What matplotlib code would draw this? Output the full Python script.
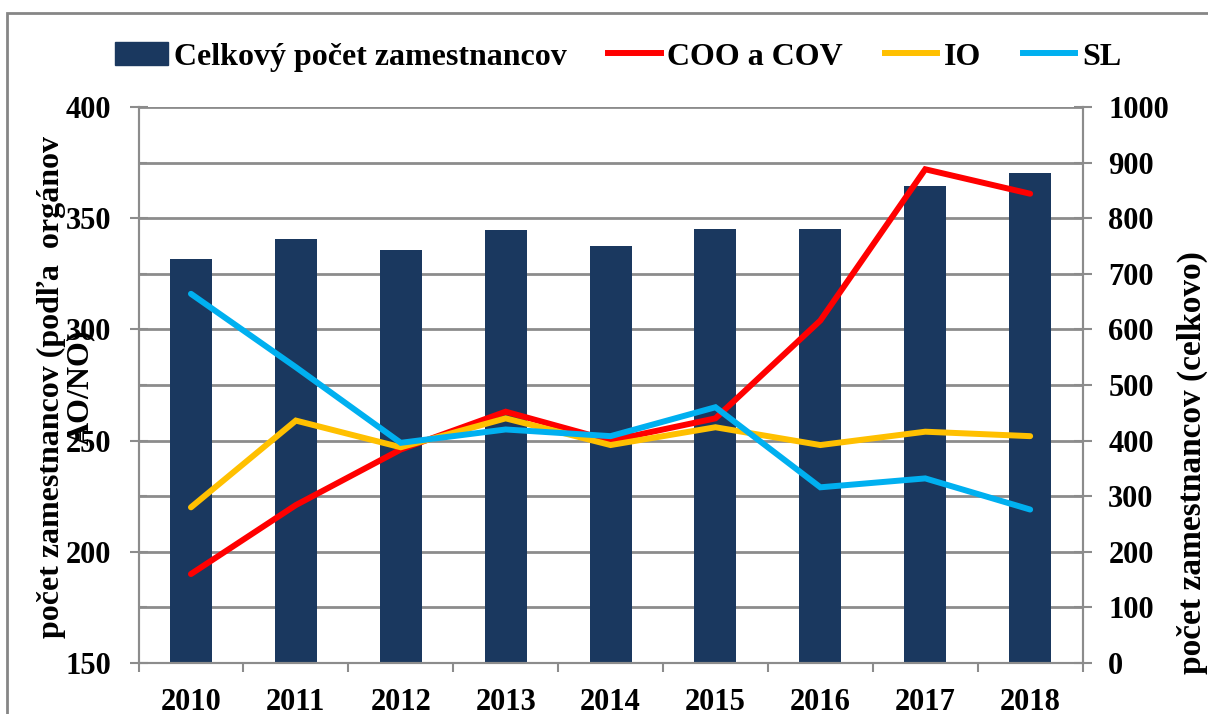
import matplotlib
matplotlib.use("Agg")
import matplotlib.pyplot as plt
import numpy as np
from matplotlib.patches import Rectangle, Patch
from matplotlib.lines import Line2D

years = ["2010", "2011", "2012", "2013", "2014", "2015", "2016", "2017", "2018"]
celkovy = [726, 763, 742, 778, 750, 781, 781, 858, 882]
coo_cov = [190, 221, 246, 263, 250, 260, 304, 372, 361]
io = [220, 259, 247, 260, 248, 256, 248, 254, 252]
sl = [316, 283, 249, 255, 252, 265, 229, 233, 219]

BAR = "#1A385F"
RED = "#FF0000"
YEL = "#FFC000"
BLU = "#00B0F0"
GRID = "#8C8C8C"
FONT = "Liberation Serif"
FS = 22

plt.rcParams["font.family"] = [FONT, "DejaVu Serif"]
plt.rcParams["font.weight"] = "bold"

fig = plt.figure(figsize=(12.08, 7.14), dpi=100)
L, R = 138.5 / 1208, 1082.6 / 1208
B, T = (714 - 663) / 714, (714 - 107) / 714
ax = fig.add_axes([L, B, R - L, T - B])
ax2 = ax.twinx()

x = np.arange(len(years))

# bars on right axis (drawn below)
ax2.bar(x, celkovy, width=0.4, color=BAR, zorder=2)
ax2.set_ylim(0, 1000)
ax2.set_yticks(np.arange(0, 1001, 100))
ax2.grid(axis="y", color=GRID, linewidth=2, zorder=0)
ax2.set_axisbelow(True)

# lines on left axis (drawn above)
lw = 4.3
ax.plot(x, coo_cov, color=RED, lw=lw, solid_capstyle="round", solid_joinstyle="miter", zorder=3)
ax.plot(x, io, color=YEL, lw=lw, solid_capstyle="round", solid_joinstyle="miter", zorder=4)
ax.plot(x, sl, color=BLU, lw=lw, solid_capstyle="round", solid_joinstyle="miter", zorder=5)
ax.set_ylim(150, 400)
ax.set_yticks(np.arange(150, 401, 50))
ax.set_yticks(np.arange(175, 400, 50), minor=True)
ax.set_xlim(-0.5, len(years) - 0.5)

ax.set_zorder(ax2.get_zorder() + 1)
ax.patch.set_visible(False)

ax.set_xticks(x)
ax.set_xticklabels(years)
ax.set_xticks(np.arange(-0.5, len(years)), minor=True)
ax.tick_params(axis="x", which="major", length=0, pad=18, labelsize=FS)
ax.tick_params(axis="x", which="minor", length=6.5, width=1.5, color=GRID, direction="out")
ax.tick_params(axis="y", which="major", direction="inout", length=13, width=1.5, color=GRID,
               pad=13, labelsize=FS)
ax.tick_params(axis="y", which="minor", direction="in", length=6, width=1.5, color=GRID)
ax2.tick_params(axis="y", which="major", direction="inout", length=13, width=1.5, color=GRID,
                pad=12, labelsize=FS)

for a in (ax, ax2):
    for s in a.spines.values():
        s.set_color(GRID)
        s.set_linewidth(1.5)
    a.spines["top"].set_visible(False)
    for lab in a.get_xticklabels() + a.get_yticklabels():
        lab.set_fontweight("bold")
        lab.set_fontfamily(FONT)

# axis titles
fig.text(66 / 1208, (714 - 387) / 714, "počet zamestnancov (podľa  orgánov\nAO/NO)",
         rotation=90, ha="center", va="center", fontsize=23, fontweight="bold",
         family=FONT, linespacing=1.0, multialignment="center")
fig.text(1192 / 1208, (714 - 463) / 714, "počet zamestnancov (celkovo)",
         rotation=90, ha="center", va="center", fontsize=24, fontweight="bold", family=FONT)

# legend
handles = [Patch(facecolor=BAR, edgecolor=BAR),
           Line2D([], [], color=RED, lw=lw),
           Line2D([], [], color=YEL, lw=lw),
           Line2D([], [], color=BLU, lw=lw)]
labels = ["Celkový počet zamestnancov", "COO a COV", "IO", "SL"]
fig.legend(handles, labels, loc="center", bbox_to_anchor=(618 / 1208, (714 - 57) / 714),
           ncol=4, frameon=False, prop={"family": FONT, "weight": "bold", "size": 23},
           handlelength=1.65, handletextpad=0.2, columnspacing=1.3, borderaxespad=0,
           borderpad=0)

# outer chart border
fig.patches.append(Rectangle((7 / 1208, -0.1), 1.2, (714 - 13) / 714 + 0.1,
                             transform=fig.transFigure, fill=False,
                             edgecolor="#868686", linewidth=2))

fig.savefig("out.png", dpi=100)
